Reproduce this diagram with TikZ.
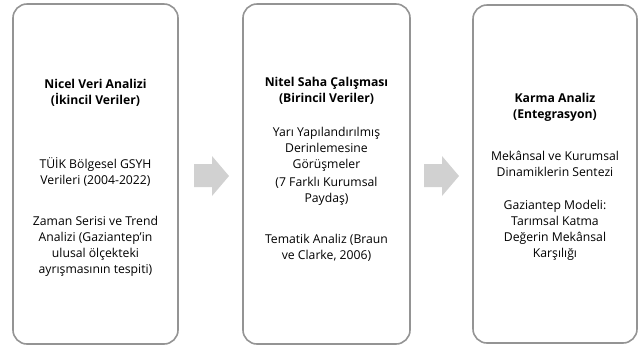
\documentclass[tikz,border=0pt]{standalone}
\usepackage{fontspec}
\setmainfont{Open Sans}
\begin{document}
\begin{tikzpicture}[x=1pt,y=-1pt,
  panel/.style={draw=black!42, line width=1.6pt, rounded corners=14pt, inner sep=0pt},
  txt/.style={align=center, font=\fontsize{12.2}{16}\selectfont, inner sep=0pt},
  ttl/.style={txt, font=\fontsize{12.2}{16}\selectfont\bfseries},
  arrowfill/.style={fill=black!18}]
\useasboundingbox (0,0) rectangle (643,349);
\node[panel, minimum width=165pt, minimum height=340pt] (b1) at (95.5,174) {};
\node[panel, minimum width=167pt, minimum height=340pt] (b2) at (326.5,174) {};
\node[panel, minimum width=164pt, minimum height=338pt] (b3) at (555,174) {};
% arrows
\fill[arrowfill] (194,164) -- (212,164) -- (212,156) -- (229,176) -- (212,196) -- (212,187) -- (194,187) -- cycle;
\fill[arrowfill] (424,164) -- (442,164) -- (442,156) -- (459,176) -- (442,196) -- (442,187) -- (424,187) -- cycle;
% box 1
\node[ttl] (t1) at (95.5,93) {Nicel Veri Analizi\\(İkincil Veriler)};
\node[txt] (p11) at (95.5,171.5) {TÜİK Bölgesel GSYH\\Verileri (2004-2022)};
\node[txt] (p12) at (95.5,246) {Zaman Serisi ve Trend\\Analizi (Gaziantep’in\\ulusal ölçekteki\\ayrışmasının tespiti)};
% box 2
\node[ttl] (t2) at (326.5,90.5) {Nitel Saha Çalışması\\(Birincil Veriler)};
\node[txt] (p21) at (326.5,149.5) {Yarı Yapılandırılmış\\Derinlemesine\\Görüşmeler};
\node[txt] (p22) at (326.5,191) {(7 Farklı Kurumsal\\Paydaş)};
\node[txt] (p23) at (326.5,248) {Tematik Analiz (Braun\\ve Clarke, 2006)};
% box 3
\node[ttl] (t3) at (555,107) {Karma Analiz\\(Entegrasyon)};
\node[txt] (p31) at (555,163.5) {Mekânsal ve Kurumsal\\Dinamiklerin Sentezi};
\node[txt] (p32) at (555,230.5) {Gaziantep Modeli:\\Tarımsal Katma\\Değerin Mekânsal\\Karşılığı};
\end{tikzpicture}
\end{document}
